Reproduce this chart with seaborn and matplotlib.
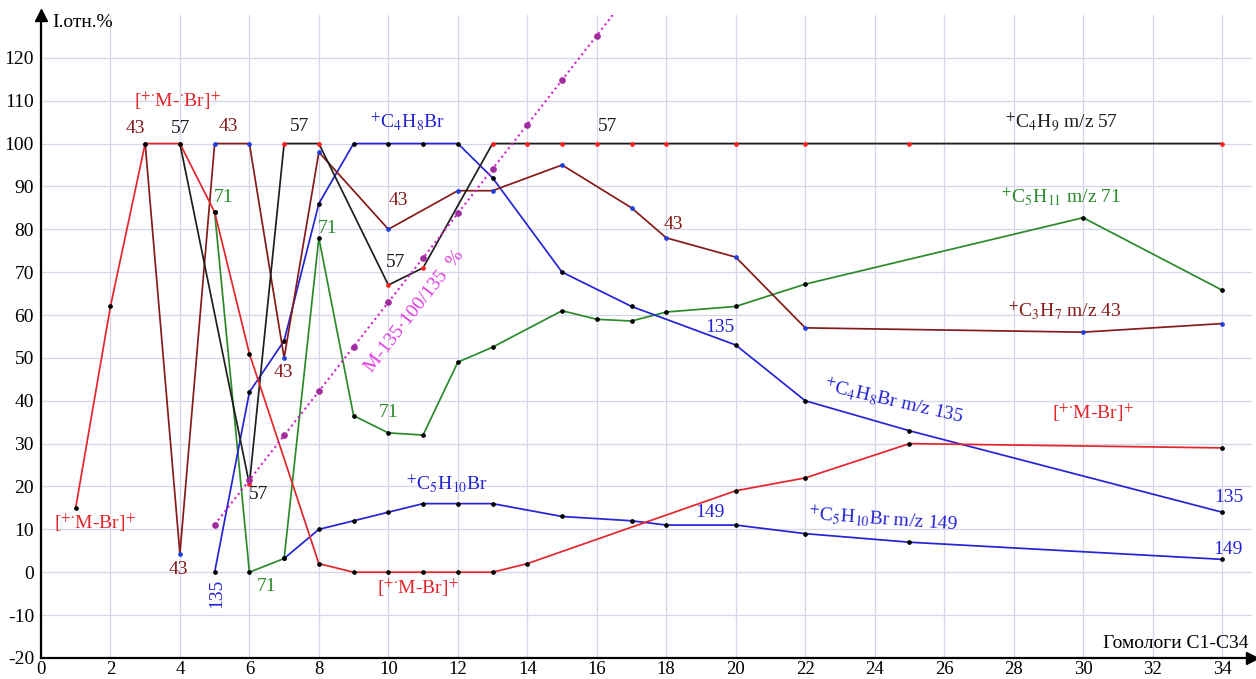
import matplotlib
matplotlib.use("Agg")
import matplotlib.pyplot as plt
import seaborn as sns
import pandas as pd

# Homologue number (C1..C34) vs. relative ion intensity, %
mbr_x = [1, 2, 3, 4, 5, 6, 8, 9, 10, 11, 12, 13, 14, 20, 22, 25, 34]
mbr_y = [15, 62, 100, 100, 84, 51, 2, 0, 0, 0, 0, 0, 2, 19, 22, 30, 29]

c4h9_x = [4, 6, 7, 8, 10, 11, 13, 14, 15, 16, 17, 18, 20, 22, 25, 34]
c4h9_y = [100, 20.5, 100, 100, 67, 71, 100, 100, 100, 100, 100, 100, 100, 100, 100, 100]

c3h7_x = [3, 4, 5, 6, 7, 8, 10, 12, 13, 15, 17, 18, 20, 22, 30, 34]
c3h7_y = [100, 4.3, 100, 100, 50, 98, 80, 89, 89, 95, 85, 78, 73.5, 57, 56, 58]

c4h8br_x = [5, 6, 7, 8, 9, 10, 11, 12, 13, 15, 17, 20, 22, 25, 34]
c4h8br_y = [0, 42, 54, 86, 100, 100, 100, 100, 92, 70, 62, 53, 40, 33, 14]

c5h10br_x = [7, 8, 9, 10, 11, 12, 13, 15, 17, 18, 20, 22, 25, 34]
c5h10br_y = [3.2, 10, 12, 14, 16, 16, 16, 13, 12, 11, 11, 9, 7, 3]

c5h11_x = [5, 6, 7, 8, 9, 10, 11, 12, 13, 15, 16, 17, 18, 20, 22, 30, 34]
c5h11_y = [84, 0, 3.2, 78, 36.5, 32.5, 32, 49, 52.5, 61, 59, 58.6, 60.7, 62, 67.2, 82.7, 65.8]

mloss_x = [5, 6, 7, 8, 9, 10, 11, 12, 13, 14, 15, 16, 17]
mloss_y = [11.1, 21.5, 31.9, 42.2, 52.6, 63.0, 73.3, 83.7, 94.1, 104.4, 114.8, 125.2, 135.6]

x_ticks = list(range(0, 35, 2))
y_ticks = list(range(-20, 121, 10))

RED = "#e3262b"
BROWN = "#841a1a"
BLUE = "#2424d4"
GREEN = "#2b8a2b"
MAG_LINE = "#cc22cc"
MAG_DOT = "#a02ca0"
MAG_TEXT = "#e03ce0"
DARK = "#1e1e1e"

sns.set_style("white")
plt.rcParams["font.family"] = ["Liberation Serif", "DejaVu Serif"]
plt.rcParams["mathtext.fontset"] = "stix"
plt.rcParams["axes.unicode_minus"] = False

fig = plt.figure(figsize=(12.56, 6.79), dpi=100)
ax = fig.add_axes([0.0326, 0.0310, 0.9642, 0.9470])

series = [
    (c5h11_x, c5h11_y, GREEN, "black"),
    (c5h10br_x, c5h10br_y, BLUE, "black"),
    (c4h8br_x, c4h8br_y, BLUE, "black"),
    (c3h7_x, c3h7_y, BROWN, "#1f3fe0"),
    (c4h9_x, c4h9_y, DARK, "#ff2020"),
    (mbr_x, mbr_y, RED, "black"),
]
for xs, ys, col, mcol in series:
    df = pd.DataFrame({"n": xs, "I": ys})
    sns.lineplot(data=df, x="n", y="I", color=col, lw=1.25,
                 marker="o", markersize=2.6, markerfacecolor=mcol,
                 markeredgecolor=mcol, ax=ax, legend=False)

df_m = pd.DataFrame({"n": mloss_x, "I": mloss_y})
sns.lineplot(data=df_m, x="n", y="I", color=MAG_LINE, lw=1.5, linestyle=(0, (1, 1.6)),
             marker="o", markersize=4, markerfacecolor=MAG_DOT,
             markeredgecolor=MAG_DOT, ax=ax, legend=False)

ax.set_xlim(0, 34.86)
ax.set_ylim(-20, 130)
ax.set_xticks(x_ticks)
ax.set_yticks(y_ticks)
ax.set_xlabel("")
ax.set_ylabel("")
ax.grid(True, color="#d6d6ea", lw=0.9)
ax.set_axisbelow(True)
for s in ("top", "right"):
    ax.spines[s].set_visible(False)
for s in ("left", "bottom"):
    ax.spines[s].set_color("black")
    ax.spines[s].set_linewidth(1.6)
ax.tick_params(axis="y", which="major", labelsize=14, length=4, width=1.2,
               direction="out", colors="black", pad=1)
ax.tick_params(axis="x", which="major", labelsize=13.5, length=2, width=1.2,
               direction="out", colors="black", pad=0)
ax.plot(1, 0, ">", color="black", ms=8, transform=ax.transAxes, clip_on=False)
ax.plot(0, 1, "^", color="black", ms=8, transform=ax.transAxes, clip_on=False)

ax.text(0.33, 128.3, "I.отн.%", fontsize=14, ha="left", va="center", color="black")
ax.text(34.75, -16.7, "Гомологи C1-C34", fontsize=14, ha="right", va="center", color="black")

MBR = r"[$^{+{\cdot}}$M-Br]$^{+}$"
labels = [
    (r"[$^{+{\cdot}}$M-$^{{\cdot}}$Br]$^{+}$", 3.94, 110, RED, 0),
    ("43", 2.73, 103.5, BROWN, 0),
    ("57", 4.03, 103.5, DARK, 0),
    ("43", 5.4, 104, BROWN, 0),
    ("57", 7.45, 104, DARK, 0),
    (r"$^{+}$C$_4$H$_8$Br", 10.56, 105, BLUE, 0),
    ("57", 16.3, 104, DARK, 0),
    (r"$^{+}$C$_4$H$_9$ m/z 57", 29.36, 105, DARK, 0),
    ("71", 5.27, 87.5, GREEN, 0),
    ("71", 8.26, 80.2, GREEN, 0),
    ("43", 10.28, 86.7, BROWN, 0),
    ("57", 10.22, 72.3, DARK, 0),
    ("43", 18.2, 81.2, BROWN, 0),
    (r"$^{+}$C$_5$H$_{11}$ m/z 71", 29.36, 87.5, GREEN, 0),
    (r"$^{+}$C$_3$H$_7$ m/z 43", 29.48, 61, BROWN, 0),
    ("43", 6.97, 46.7, BROWN, 0),
    ("57", 6.25, 18.1, DARK, 0),
    ("71", 6.5, -3.3, GREEN, 0),
    ("135", 5.07, -5, BLUE, 90),
    ("43", 3.95, 0.7, BROWN, 0),
    (MBR, 1.55, 11.6, RED, 0),
    ("71", 10.0, 37.2, GREEN, 0),
    (r"$^{+}$C$_5$H$_{10}$Br", 11.68, 20.5, BLUE, 0),
    (MBR, 10.85, -3.5, RED, 0),
    ("135", 19.55, 57, BLUE, 0),
    (r"$^{+}$C$_4$H$_8$Br m/z 135", 24.55, 39.8, BLUE, -13),
    (r"$^{+}$C$_5$H$_{10}$Br m/z 149", 24.24, 12.3, BLUE, -4),
    ("149", 19.26, 14, BLUE, 0),
    (MBR, 30.28, 37.2, RED, 0),
    ("135", 34.2, 17.4, BLUE, 0),
    ("149", 34.17, 5.3, BLUE, 0),
]
for txt, x, y, col, rot in labels:
    ax.text(x, y, txt, color=col, fontsize=14, ha="center", va="center",
            rotation=rot, rotation_mode="anchor")

ax.text(10.74, 60.9, "M-135·100/135  %", color=MAG_TEXT, fontsize=14,
        ha="center", va="center", rotation=52, rotation_mode="anchor")

fig.savefig("out.png", dpi=100)
